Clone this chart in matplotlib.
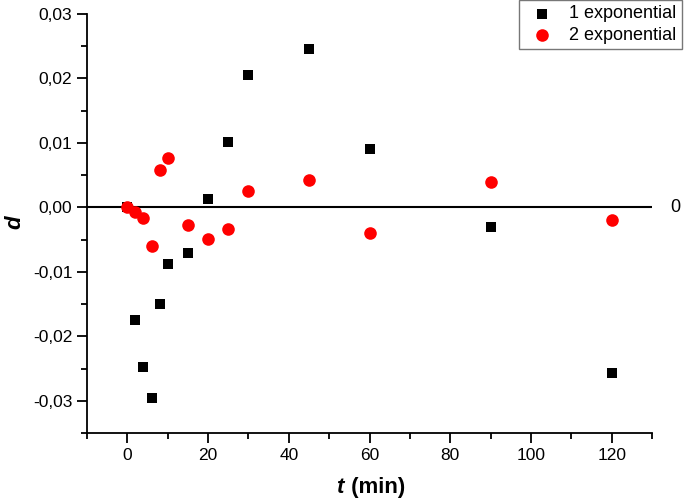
import matplotlib
matplotlib.use("Agg")
import matplotlib.pyplot as plt
from matplotlib.ticker import MultipleLocator, FuncFormatter

plt.rcParams['font.family'] = ['Liberation Sans', 'DejaVu Sans']

t = [0, 2, 4, 6, 8, 10, 15, 20, 25, 30, 45, 60, 90, 120]
d_one = [0.0, -0.0175, -0.0247, -0.0296, -0.0150, -0.0088, -0.0070,
         0.0013, 0.0101, 0.0205, 0.0245, 0.0090, -0.0031, -0.0257]
d_two = [0.0, -0.0007, -0.0016, -0.0060, 0.0058, 0.0077, -0.0027,
         -0.0049, -0.0034, 0.0025, 0.0043, -0.0040, 0.0039, -0.0020]

fig = plt.figure(figsize=(6.85, 5.03), dpi=100)
ax = fig.add_axes([87/685, 1 - 433/503, (652 - 87)/685, (433 - 14)/503])

ax.axhline(0, color='black', lw=1.5, zorder=1)
ax.text(134.5, 0, '0', fontsize=13, ha='left', va='center', clip_on=False)

ax.scatter(t, d_one, marker='s', s=62, color='black', lw=0, label='1 exponential', zorder=3)
ax.scatter(t, d_two, marker='o', s=82, color='#ff0000', lw=0, label='2 exponential', zorder=3)

ax.set_xlim(-10, 130)
ax.set_ylim(-0.035, 0.03)
ax.xaxis.set_major_locator(MultipleLocator(20))
ax.xaxis.set_minor_locator(MultipleLocator(10))
ax.yaxis.set_major_locator(MultipleLocator(0.01))
ax.yaxis.set_minor_locator(MultipleLocator(0.005))
ax.yaxis.set_major_formatter(FuncFormatter(lambda v, p: f"{v:.2f}".replace('.', ',').replace('-0,00', '0,00')))

for s in ['top', 'right']:
    ax.spines[s].set_visible(False)
for s in ['left', 'bottom']:
    ax.spines[s].set_linewidth(1.3)
ax.tick_params(which='major', direction='out', length=7, width=1.3, labelsize=12.5)
ax.tick_params(which='minor', direction='out', length=4.5, width=1.3)

# axis titles placed in figure coords (t italic, rest upright bold)
fig.text(0.496, 0.03, 't', fontsize=16, fontweight='bold', style='italic', ha='center', va='center')
fig.text(0.548, 0.03, ' (min)', fontsize=16, fontweight='bold', ha='center', va='center')
fig.text(0.022, 1 - 222/503, 'd', fontsize=16, fontweight='bold', style='italic',
         rotation=90, ha='center', va='center')

leg = fig.legend(loc='upper right', bbox_to_anchor=(682/685, 1.0), fontsize=13,
                 frameon=True, fancybox=False, borderaxespad=0, handletextpad=0.5,
                 borderpad=0.3, labelspacing=0.25)
leg.get_frame().set_edgecolor('#555555')
leg.get_frame().set_linewidth(1)

fig.savefig('out.png', dpi=100)
